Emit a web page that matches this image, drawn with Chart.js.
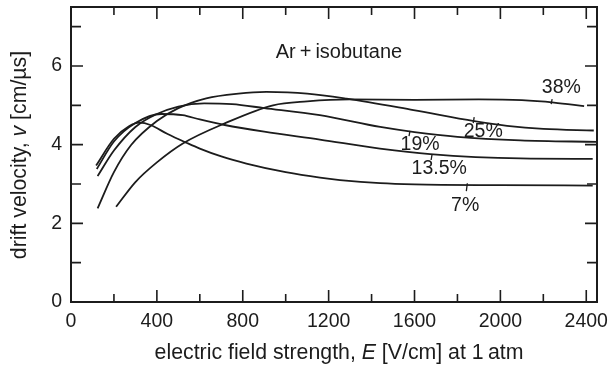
<!DOCTYPE html>
<html>
<head>
<meta charset="utf-8">
<script src="https://cdn.jsdelivr.net/npm/chart.js@4.4.1/dist/chart.umd.min.js"></script>
<style>
  html, body { margin: 0; padding: 0; background: #fff; }
  canvas { display: block; }
</style>
</head>
<body>
<canvas id="c" width="609" height="368"></canvas>
<script>
const INK  = '#1c1c1c';
const FONT = '"Liberation Sans", Arial, Helvetica, sans-serif';

// tick labels
const eTicks = [0, 400, 800, 1200, 1600, 2000, 2400];
const vTicks = [0, 2, 4, 6];

// drift velocity curves, E in V/cm, v in cm/us
const e7   = [117, 200, 270, 320, 370, 450, 537, 600, 700, 817, 1000, 1160, 1253, 1440, 1600, 2000, 2430];
const v7   = [3.47, 4.15, 4.47, 4.56, 4.5, 4.27, 4.05, 3.9, 3.7, 3.52, 3.3, 3.16, 3.1, 3.02, 2.99, 2.97, 2.96];

const e135 = [120, 200, 300, 420, 520, 600, 716, 900, 1159, 1439, 1673, 2093, 2430];
const v135 = [3.38, 4.08, 4.55, 4.78, 4.75, 4.64, 4.5, 4.33, 4.13, 3.9, 3.76, 3.65, 3.64];

const e19  = [124, 200, 300, 400, 500, 620, 750, 900, 1159, 1440, 1600, 1800, 2093, 2450];
const v19  = [3.2, 3.85, 4.45, 4.78, 4.97, 5.05, 5.03, 4.93, 4.75, 4.45, 4.32, 4.2, 4.11, 4.07];

const e25  = [124, 200, 280, 400, 500, 630, 780, 910, 1100, 1284, 1595, 1878, 2031, 2200, 2435];
const v25  = [2.38, 3.3, 3.99, 4.6, 4.93, 5.18, 5.3, 5.34, 5.3, 5.17, 4.88, 4.6, 4.48, 4.4, 4.36];

const e38  = [210, 300, 400, 521, 716, 941, 1100, 1300, 1600, 1900, 2100, 2250, 2390];
const v38  = [2.42, 3.05, 3.55, 4.03, 4.54, 5.0, 5.1, 5.15, 5.14, 5.15, 5.13, 5.07, 4.98];

// curve labels and their little leader marks
const pctText = ['38%', '25%', '19%', '13.5%', '7%'];
const pctE    = [2284, 1920, 1626, 1715, 1836];
const pctV    = [5.44, 4.34, 4.01, 3.38, 2.44];
const leadE   = [2241, 1878, 1579, 1682, 1846];
const leadV1  = [5.16, 4.70, 4.35, 3.76, 3.02];
const leadV2  = [5.03, 4.55, 4.22, 3.61, 2.82];

const mixText = 'Ar\u2009+\u2009isobutane';
const mixE = 1248, mixV = 6.35;

const pts = (es, vs) => es.map((e, i) => ({ x: e, y: vs[i] }));
const curve = (label, es, vs) => ({
  label, data: pts(es, vs), showLine: true, borderColor: INK, borderWidth: 1.8,
  pointRadius: 0, cubicInterpolationMode: 'monotone', fill: false
});

function richText(ctx, parts, cx, cy, size) {
  const fonts = parts.map(p => (p[1] ? 'italic ' : '') + size + 'px ' + FONT);
  let w = 0;
  parts.forEach((p, i) => { ctx.font = fonts[i]; w += ctx.measureText(p[0]).width; });
  let x = cx - w / 2;
  ctx.textAlign = 'left';
  ctx.textBaseline = 'middle';
  parts.forEach((p, i) => {
    ctx.font = fonts[i];
    ctx.fillText(p[0], x, cy);
    x += ctx.measureText(p[0]).width;
  });
}

const overlay = {
  id: 'overlay',
  afterDatasetsDraw(chart) {
    const { ctx, chartArea: a, scales: { x, y } } = chart;
    ctx.save();
    ctx.strokeStyle = INK;
    ctx.fillStyle = INK;

    // frame
    ctx.lineWidth = 2;
    ctx.strokeRect(a.left, a.top, a.right - a.left, a.bottom - a.top);

    // inward ticks on all four sides
    ctx.lineWidth = 1.6;
    ctx.beginPath();
    const eStep = eTicks[1] - eTicks[0];
    eTicks.forEach(e => {
      [[e, 12], [e + eStep / 2, 8]].forEach(([val, len]) => {
        if (val > x.max) return;
        const px = x.getPixelForValue(val);
        ctx.moveTo(px, a.bottom); ctx.lineTo(px, a.bottom - len);
        ctx.moveTo(px, a.top);    ctx.lineTo(px, a.top + len);
      });
    });
    const vStep = vTicks[1] - vTicks[0];
    vTicks.forEach(v => {
      [[v, 12], [v + vStep / 2, 10]].forEach(([val, len]) => {
        if (val > y.max) return;
        const py = y.getPixelForValue(val);
        ctx.moveTo(a.left, py);  ctx.lineTo(a.left + len, py);
        ctx.moveTo(a.right, py); ctx.lineTo(a.right - len, py);
      });
    });
    ctx.stroke();

    // curve labels
    ctx.lineWidth = 1.3;
    ctx.beginPath();
    leadE.forEach((e, i) => {
      const px = x.getPixelForValue(e);
      ctx.moveTo(px, y.getPixelForValue(leadV1[i]));
      ctx.lineTo(px - 1, y.getPixelForValue(leadV2[i]));
    });
    ctx.stroke();
    ctx.font = '19.5px ' + FONT;
    ctx.textAlign = 'center';
    ctx.textBaseline = 'middle';
    pctText.forEach((t, i) => ctx.fillText(t, x.getPixelForValue(pctE[i]), y.getPixelForValue(pctV[i])));
    ctx.font = '20px ' + FONT;
    ctx.fillText(mixText, x.getPixelForValue(mixE), y.getPixelForValue(mixV));

    // axis titles
    richText(ctx, [['electric field strength, ', 0], ['E', 1], [' [V/cm] at 1\u2009atm', 0]],
      339, 353, 21.3);
    ctx.save();
    ctx.translate(20.5, 155);
    ctx.rotate(-Math.PI / 2);
    richText(ctx, [['drift velocity, ', 0], ['v', 1], [' [cm/\u00b5s]', 0]], 0, 0, 21.3);
    ctx.restore();

    ctx.restore();
  }
};

new Chart(document.getElementById('c'), {
  type: 'scatter',
  data: {
    datasets: [
      curve('7%', e7, v7),
      curve('13.5%', e135, v135),
      curve('19%', e19, v19),
      curve('25%', e25, v25),
      curve('38%', e38, v38)
    ]
  },
  options: {
    responsive: false,
    animation: false,
    devicePixelRatio: 1,
    layout: { padding: { top: 7, right: 12, left: 0, bottom: 0 } },
    plugins: { legend: { display: false }, tooltip: { enabled: false } },
    scales: {
      x: {
        type: 'linear', min: 0, max: 2450,
        afterBuildTicks: s => { s.ticks = eTicks.map(v => ({ value: v })); },
        afterFit: s => { s.height = 66; s.paddingLeft = 0; s.paddingRight = 0; },
        grid: { display: false, drawTicks: false },
        border: { display: false },
        ticks: { color: INK, padding: 8, maxRotation: 0, autoSkip: false, callback: v => String(v),
                 font: { family: FONT, size: 19.5 } }
      },
      y: {
        type: 'linear', min: 0, max: 7.5,
        afterBuildTicks: s => { s.ticks = vTicks.map(v => ({ value: v })); },
        afterFit: s => { s.width = 71; s.paddingTop = 0; s.paddingBottom = 0; },
        grid: { display: false, drawTicks: false },
        border: { display: false },
        ticks: { color: INK, padding: 9, callback: v => String(v), font: { family: FONT, size: 19.5 } }
      }
    }
  },
  plugins: [overlay]
});
</script>
</body>
</html>
